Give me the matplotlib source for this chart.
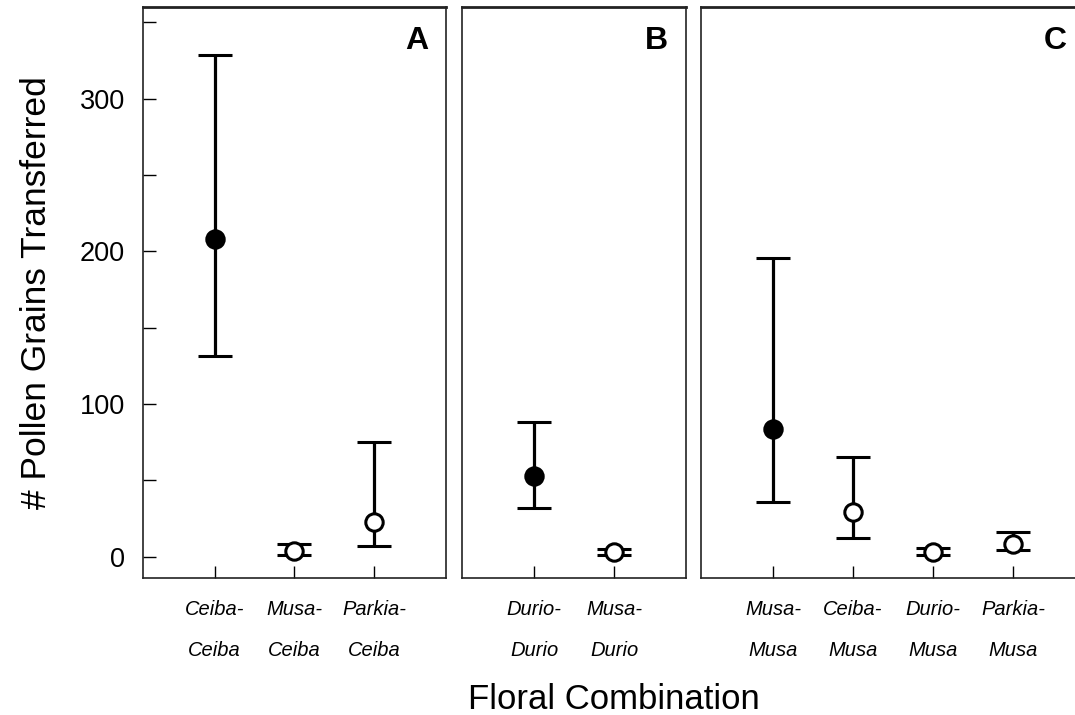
import matplotlib.pyplot as plt

plt.rcParams['font.family'] = ['Liberation Sans', 'DejaVu Sans']

# mean pollen grains transferred, with lower / upper limits of the error bars
labels_a = ["Ceiba-\nCeiba", "Musa-\nCeiba", "Parkia-\nCeiba"]
mean_a = [207.8, 3.5, 22.7]
low_a = [131.4, 1.3, 6.8]
high_a = [328.8, 8.3, 75.4]

labels_b = ["Durio-\nDurio", "Musa-\nDurio"]
mean_b = [52.9, 2.8]
low_b = [31.8, 1.3]
high_b = [88.2, 5.0]

labels_c = ["Musa-\nMusa", "Ceiba-\nMusa", "Durio-\nMusa", "Parkia-\nMusa"]
mean_c = [83.4, 29.0, 2.8, 8.5]
low_c = [35.5, 12.4, 1.3, 4.1]
high_c = [195.4, 65.4, 5.5, 15.9]

panels = [
    ("A", labels_a, mean_a, low_a, high_a),
    ("B", labels_b, mean_b, low_b, high_b),
    ("C", labels_c, mean_c, low_c, high_c),
]

fig = plt.figure(figsize=(10.75, 7.15), dpi=100)

# panel boxes (left, width) in figure fraction; C runs past the right edge
boxes = [(0.1330, 0.2819), (0.4298, 0.2084), (0.6521, 0.3572)]
bottom, height = 0.1916, 0.7986

axes = []
for (letter, labels, mean, low, high), (left, width) in zip(panels, boxes):
    ax = fig.add_axes([left, bottom, width, height])
    axes.append(ax)
    x = list(range(1, len(labels) + 1))
    for i, xi in enumerate(x):
        filled = i == 0
        ax.errorbar(xi, mean[i],
                    yerr=[[mean[i] - low[i]], [high[i] - mean[i]]],
                    fmt='o', color='black', ecolor='black',
                    elinewidth=2.3, capsize=12.5, capthick=2.3,
                    markersize=12.5,
                    markerfacecolor='black' if filled else 'white',
                    markeredgecolor='black', markeredgewidth=2.2,
                    zorder=3)
    ax.set_xlim(0.1, len(labels) + 0.9)
    ax.set_ylim(-14, 360)
    ax.set_xticks(x)
    ax.set_xticklabels(labels, fontsize=14.5, style='italic', linespacing=2.45)
    ax.tick_params(axis='x', direction='in', length=9, width=1.0, pad=16)
    for s in ax.spines.values():
        s.set_linewidth(1.2)
        s.set_color('#222222')
    ax.spines['top'].set_linewidth(2.0)
    ax.annotate(letter, xy=(1, 1), xycoords='axes fraction',
                xytext=(-13, -14), textcoords='offset points',
                ha='right', va='top', fontsize=23, fontweight='bold')

ax_a = axes[0]
ax_a.set_yticks([0, 100, 200, 300])
ax_a.set_yticks([50, 150, 250, 350], minor=True)
ax_a.tick_params(axis='y', which='both', direction='in', length=9,
                 width=1.0, labelsize=19.5, pad=13)
ax_a.set_ylabel("# Pollen Grains Transferred", fontsize=25.5, labelpad=19)

for ax in axes[1:]:
    ax.set_yticks([])

fig.text(0.5714, 0.009, "Floral Combination", ha='center', va='baseline',
         fontsize=25)

fig.savefig("out.png", dpi=100)
